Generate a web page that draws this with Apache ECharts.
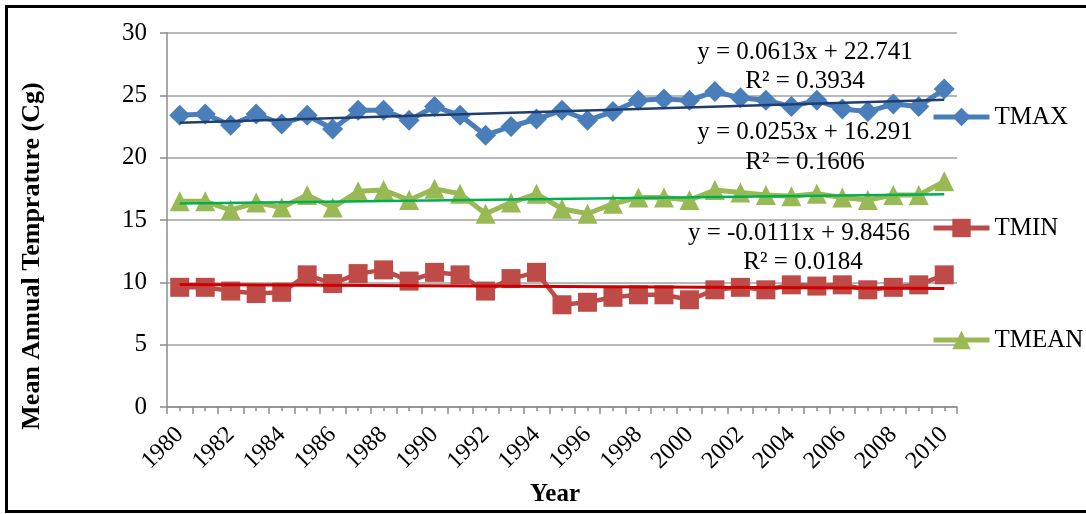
<!DOCTYPE html>
<html>
<head>
<meta charset="utf-8">
<script src="https://cdn.jsdelivr.net/npm/echarts@6/dist/echarts.min.js"></script>
<style>
  html, body { margin: 0; padding: 0; background: #fff; }
  #chart { width: 1086px; height: 514px; }
</style>
</head>
<body>
<div id="chart"></div>
<script>
// Annual mean temperatures 1980-2010
const years = ['1980','1981','1982','1983','1984','1985','1986','1987','1988','1989',
  '1990','1991','1992','1993','1994','1995','1996','1997','1998','1999',
  '2000','2001','2002','2003','2004','2005','2006','2007','2008','2009','2010'];

const tmax = [23.4, 23.5, 22.6, 23.5, 22.7, 23.4, 22.3, 23.8, 23.8, 23.0,
  24.1, 23.4, 21.8, 22.5, 23.1, 23.8, 23.0, 23.7, 24.6, 24.7,
  24.6, 25.3, 24.8, 24.6, 24.1, 24.6, 23.9, 23.7, 24.3, 24.1, 25.5];

const tmin = [9.6, 9.6, 9.3, 9.1, 9.2, 10.6, 9.9, 10.7, 11.0, 10.1,
  10.8, 10.6, 9.3, 10.3, 10.8, 8.2, 8.4, 8.8, 9.0, 9.0,
  8.6, 9.4, 9.6, 9.4, 9.8, 9.7, 9.8, 9.4, 9.6, 9.8, 10.6];

const tmean = [16.5, 16.5, 15.8, 16.4, 16.0, 17.0, 16.0, 17.3, 17.4, 16.6,
  17.5, 17.1, 15.5, 16.4, 17.1, 15.9, 15.5, 16.3, 16.8, 16.8,
  16.6, 17.4, 17.2, 17.0, 16.9, 17.1, 16.8, 16.6, 17.0, 17.0, 18.1];

const yTicks = { min: 0, max: 30, step: 5 };

// Linear trend coefficients (x = 1..31)
const fitMax = { slope: 0.0613, intercept: 22.741, r2: '0.3934' };
const fitMean = { slope: 0.0253, intercept: 16.291, r2: '0.1606' };
const fitMin = { slope: -0.0111, intercept: 9.8456, r2: '0.0184' };

const serif = "'Liberation Serif', 'Times New Roman', serif";

function trendPoints(fit) {
  const n = years.length;
  return [
    [years[0], +(fit.slope * 1 + fit.intercept).toFixed(4)],
    [years[n - 1], +(fit.slope * n + fit.intercept).toFixed(4)]
  ];
}

function equationText(fit) {
  const sign = fit.slope < 0 ? '-' : '';
  return 'y = ' + sign + Math.abs(fit.slope) + 'x + ' + fit.intercept;
}

const chart = echarts.init(document.getElementById('chart'), null, { renderer: 'canvas' });

const legendBase = {
  orient: 'vertical',
  left: 931,
  padding: 0,
  itemWidth: 56,
  itemHeight: 23,
  itemGap: 0,
  selectedMode: false,
  lineStyle: { width: 5 },
  textStyle: { fontFamily: serif, fontSize: 25, color: '#000', lineHeight: 26, padding: [0, 0, 0, 0] }
};

function eqLabel(text, x, y) {
  return {
    type: 'text',
    x: x, y: y,
    style: {
      text: text,
      fill: '#000',
      font: '25px ' + serif,
      textAlign: 'center',
      textVerticalAlign: 'middle'
    },
    z: 100
  };
}

const option = {
  backgroundColor: '#fff',
  animation: false,
  grid: { left: 167, right: 129, top: 33, bottom: 107, containLabel: false },
  legend: [
    Object.assign({}, legendBase, { top: 104, data: ['TMAX'] }),
    Object.assign({}, legendBase, { top: 215, data: ['TMIN'] }),
    Object.assign({}, legendBase, { top: 327, data: ['TMEAN'] })
  ],
  xAxis: [
    {
      type: 'category',
      data: years,
      boundaryGap: true,
      position: 'bottom',
      axisLine: { show: true, lineStyle: { color: '#8c8c8c', width: 1.5 } },
      axisTick: { show: true, interval: 0, length: 7, alignWithLabel: false, lineStyle: { color: '#8c8c8c', width: 1.5 } },
      axisLabel: {
        interval: 1,
        rotate: 45,
        margin: 24,
        fontFamily: serif,
        fontSize: 24,
        color: '#000'
      },
      splitLine: { show: false }
    },
    {
      type: 'category',
      data: years,
      boundaryGap: true,
      position: 'bottom',
      axisLine: { show: false },
      axisTick: { show: true, interval: 0, length: 4, alignWithLabel: true, lineStyle: { color: '#8c8c8c', width: 1.5 } },
      axisLabel: { show: false },
      splitLine: { show: false }
    }
  ],
  yAxis: {
    type: 'value',
    min: yTicks.min,
    max: yTicks.max,
    interval: yTicks.step,
    axisLine: { show: true, lineStyle: { color: '#8c8c8c', width: 1.5 } },
    axisTick: { show: true, length: 7, lineStyle: { color: '#8c8c8c', width: 1.5 } },
    axisLabel: { margin: 20, fontFamily: serif, fontSize: 25, color: '#000' },
    splitLine: { show: true, lineStyle: { color: '#a0a0a0', width: 1.5 } }
  },
  series: [
    {
      name: 'TMAX',
      type: 'line',
      data: tmax,
      symbol: 'diamond',
      symbolSize: 21,
      showAllSymbol: true,
      color: '#4a7ebb',
      lineStyle: { color: '#4a7ebb', width: 5 },
      itemStyle: { color: '#4a7ebb' },
      z: 2
    },
    {
      name: 'TMIN',
      type: 'line',
      data: tmin,
      symbol: 'rect',
      symbolSize: 19,
      showAllSymbol: true,
      color: '#be4b48',
      lineStyle: { color: '#be4b48', width: 4.5 },
      itemStyle: { color: '#be4b48' },
      z: 2
    },
    {
      name: 'TMEAN',
      type: 'line',
      data: tmean,
      symbol: 'triangle',
      symbolSize: 20,
      showAllSymbol: true,
      color: '#98b954',
      lineStyle: { color: '#98b954', width: 5 },
      itemStyle: { color: '#98b954' },
      z: 2
    },
    {
      name: 'TMAX trend',
      type: 'line',
      data: trendPoints(fitMax),
      symbol: 'none',
      lineStyle: { color: '#1f3e6e', width: 2.5 },
      z: 5
    },
    {
      name: 'TMEAN trend',
      type: 'line',
      data: trendPoints(fitMean),
      symbol: 'none',
      lineStyle: { color: '#00b050', width: 2.5 },
      z: 5
    },
    {
      name: 'TMIN trend',
      type: 'line',
      data: trendPoints(fitMin),
      symbol: 'none',
      lineStyle: { color: '#cc0000', width: 3 },
      z: 5
    }
  ],
  graphic: [
    // outer frame, open on the right side
    {
      type: 'polyline',
      shape: { points: [[2000, 6.5], [6.5, 6.5], [6.5, 511.5], [2000, 511.5]] },
      style: { fill: null, stroke: '#000', lineWidth: 3 },
      z: 100
    },
    {
      type: 'text',
      x: 32, y: 256,
      rotation: Math.PI / 2,
      style: {
        text: 'Mean Annual Temprature (Cg)',
        fill: '#000',
        font: 'bold 26px ' + serif,
        textAlign: 'center',
        textVerticalAlign: 'middle'
      },
      z: 100
    },
    {
      type: 'text',
      x: 555, y: 495,
      style: {
        text: 'Year',
        fill: '#000',
        font: 'bold 25px ' + serif,
        textAlign: 'center',
        textVerticalAlign: 'middle'
      },
      z: 100
    },
    eqLabel(equationText(fitMax), 805, 52),
    eqLabel('R\u00b2 = ' + fitMax.r2, 805, 81),
    eqLabel(equationText(fitMean), 805, 132),
    eqLabel('R\u00b2 = ' + fitMean.r2, 805, 162),
    eqLabel(equationText(fitMin), 799, 233),
    eqLabel('R\u00b2 = ' + fitMin.r2, 803, 262)
  ]
};

chart.setOption(option);
</script>
</body>
</html>
